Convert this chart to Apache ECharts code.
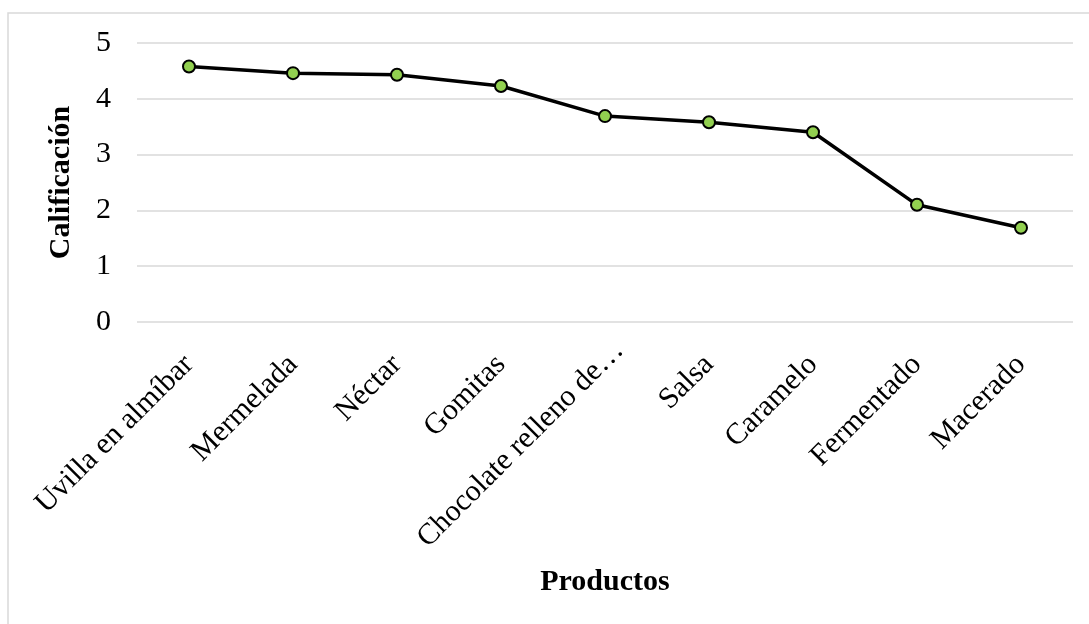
<!DOCTYPE html>
<html>
<head>
<meta charset="utf-8">
<script src="https://cdn.jsdelivr.net/npm/echarts@6/dist/echarts.min.js"></script>
<style>
  html, body { margin: 0; padding: 0; background: #ffffff; }
  #chart { width: 1089px; height: 624px; }
</style>
</head>
<body>
<div id="chart"></div>
<script>
// Productos evaluados y su calificación promedio
const productos = [
  'Uvilla en almíbar', 'Mermelada', 'Néctar', 'Gomitas',
  'Chocolate relleno de…', 'Salsa', 'Caramelo', 'Fermentado', 'Macerado'
];
const calificacion = [4.58, 4.46, 4.43, 4.23, 3.69, 3.58, 3.40, 2.10, 1.69];
const yTicks = [0, 1, 2, 3, 4, 5];

const serif = '"Liberation Serif", "Times New Roman", serif';

// truncated names keep their ellipsis hanging past the tick
const categoryData = productos.map(function (p) {
  return p.endsWith('…')
    ? { value: p, textStyle: { padding: [0, -20, 0, 0] } }
    : p;
});

const chart = echarts.init(document.getElementById('chart'), null, { renderer: 'canvas' });

chart.setOption({
  backgroundColor: '#ffffff',
  animation: false,
  graphic: [{
    type: 'rect',
    shape: { x: 8, y: 13, width: 1200, height: 700 },
    style: { fill: 'none', stroke: '#d9d9d9', lineWidth: 1.5 },
    silent: true
  }],
  grid: { left: 137, right: 16, top: 43, bottom: 302 },
  xAxis: {
    type: 'category',
    data: categoryData,
    boundaryGap: true,
    name: 'Productos',
    nameLocation: 'middle',
    nameGap: 245,
    nameTextStyle: { fontFamily: serif, fontSize: 30, fontWeight: 'bold', color: '#000' },
    axisLine: { show: false },
    axisTick: { show: false },
    axisLabel: {
      interval: 0,
      rotate: 45,
      margin: 38,
      fontFamily: serif,
      fontSize: 30,
      color: '#000'
    }
  },
  yAxis: {
    type: 'value',
    min: yTicks[0],
    max: yTicks[yTicks.length - 1],
    interval: 1,
    name: 'Calificación',
    nameLocation: 'middle',
    nameGap: 61,
    nameTextStyle: { fontFamily: serif, fontSize: 30, fontWeight: 'bold', color: '#000' },
    axisLine: { show: false },
    axisTick: { show: false },
    axisLabel: {
      margin: 26,
      fontFamily: serif,
      fontSize: 30,
      color: '#000'
    },
    splitLine: { lineStyle: { color: '#d9d9d9', width: 1.5 } }
  },
  series: [{
    type: 'line',
    data: calificacion,
    symbol: 'circle',
    symbolSize: 12,
    lineStyle: { color: '#000000', width: 3.5 },
    itemStyle: { color: '#92d050', borderColor: '#000000', borderWidth: 2 }
  }]
});
</script>
</body>
</html>
